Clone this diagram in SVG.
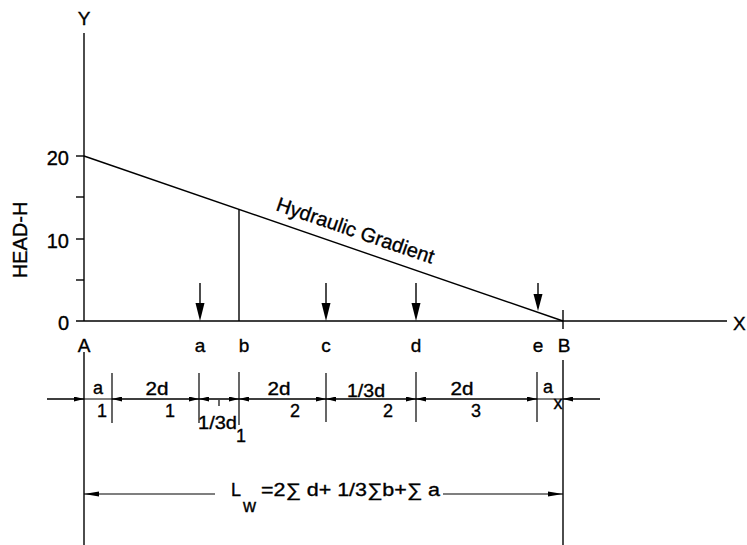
<svg xmlns="http://www.w3.org/2000/svg" width="747" height="545" viewBox="0 0 747 545">
  <style>
    .ln { stroke: #000; stroke-width: 1.4; fill: none; }
    .thin { stroke: #000; stroke-width: 1.2; fill: none; }
    .t { font-family: "Liberation Sans", Arial, sans-serif; fill: #000; stroke: #000; stroke-width: 0.35; }
    .big { font-size: 20px; }
    .lab { font-size: 19px; }
    .dim { font-size: 18px; }
    .mid { text-anchor: middle; }
    .end { text-anchor: end; }
    .head { fill: #000; stroke: none; }
  </style>
  <defs>
    <marker id="sm" markerUnits="userSpaceOnUse" markerWidth="10" markerHeight="5" refX="10" refY="2.5" orient="auto-start-reverse">
      <path d="M0,0 L10,2.5 L0,5 z" fill="#000"/>
    </marker>
    <marker id="lg" markerUnits="userSpaceOnUse" markerWidth="15" markerHeight="6" refX="15" refY="3" orient="auto-start-reverse">
      <path d="M0,0.5 L15,3 L0,5.5 z" fill="#000"/>
    </marker>
  </defs>
  <rect width="747" height="545" fill="#fff"/>

  <g id="axes">
    <line class="ln" x1="84" y1="33" x2="84" y2="321"/>
    <line class="ln" x1="76" y1="321" x2="727" y2="321"/>
    <line class="ln" x1="76" y1="156" x2="84" y2="156"/>
    <line class="ln" x1="76" y1="197" x2="84" y2="197"/>
    <line class="ln" x1="76" y1="239" x2="84" y2="239"/>
    <line class="ln" x1="76" y1="280" x2="84" y2="280"/>
    <text class="t lab mid" x="84" y="25">Y</text>
    <text class="t lab" x="733" y="330">X</text>
    <text class="t big end" x="69" y="165">20</text>
    <text class="t big end" x="69" y="248">10</text>
    <text class="t big end" x="69" y="330">0</text>
    <text class="t big mid" transform="translate(26.5,240) rotate(-90)">HEAD-H</text>
  </g>

  <g id="gradient">
    <line class="ln" x1="84" y1="156" x2="563" y2="321"/>
    <line class="ln" x1="239" y1="209" x2="239" y2="321"/>
    <line class="ln" x1="563" y1="310" x2="563" y2="329"/>
    <text class="t big" transform="translate(275,210) rotate(19)">Hydraulic Gradient</text>
  </g>

  <g id="load-arrows">
    <line class="ln" x1="200" y1="283" x2="200" y2="305"/>
    <path class="head" d="M195.5,303 L204.5,303 L200,321 z"/>
    <line class="ln" x1="326" y1="283" x2="326" y2="305"/>
    <path class="head" d="M321.5,303 L330.5,303 L326,321 z"/>
    <line class="ln" x1="416" y1="283" x2="416" y2="305"/>
    <path class="head" d="M411.5,303 L420.5,303 L416,321 z"/>
    <line class="ln" x1="538" y1="283" x2="538" y2="296"/>
    <path class="head" d="M533.5,294 L542.5,294 L538,311 z"/>
  </g>

  <g id="point-labels">
    <text class="t lab mid" x="84" y="352">A</text>
    <text class="t lab mid" x="200" y="352">a</text>
    <text class="t lab mid" x="244" y="352">b</text>
    <text class="t lab mid" x="326" y="352">c</text>
    <text class="t lab mid" x="416" y="352">d</text>
    <text class="t lab mid" x="538" y="352">e</text>
    <text class="t lab mid" x="564" y="352">B</text>
  </g>

  <g id="dimensions">
    <line class="ln" x1="84" y1="352" x2="84" y2="545"/>
    <line class="ln" x1="563" y1="360" x2="563" y2="545"/>
    <line class="thin" x1="112" y1="373" x2="112" y2="423"/>
    <line class="thin" x1="199" y1="373" x2="199" y2="423"/>
    <line class="thin" x1="239" y1="372" x2="239" y2="425"/>
    <line class="thin" x1="326" y1="373" x2="326" y2="422"/>
    <line class="thin" x1="416" y1="372" x2="416" y2="422"/>
    <line class="thin" x1="537" y1="372" x2="537" y2="422"/>
    <line class="thin" x1="219" y1="400" x2="219" y2="406"/>

    <line class="thin" x1="47" y1="399" x2="600" y2="399"/>
    <line class="thin" x1="47" y1="399" x2="84" y2="399" marker-end="url(#sm)"/>
    <line class="thin" x1="112" y1="399" x2="199" y2="399" marker-start="url(#sm)" marker-end="url(#sm)"/>
    <line class="thin" x1="199" y1="399" x2="239" y2="399" marker-start="url(#sm)" marker-end="url(#sm)"/>
    <line class="thin" x1="239" y1="399" x2="326" y2="399" marker-start="url(#sm)" marker-end="url(#sm)"/>
    <line class="thin" x1="326" y1="399" x2="416" y2="399" marker-start="url(#sm)" marker-end="url(#sm)"/>
    <line class="thin" x1="416" y1="399" x2="537" y2="399" marker-start="url(#sm)" marker-end="url(#sm)"/>
    <line class="thin" x1="600" y1="399" x2="563" y2="399" marker-end="url(#sm)"/>

    <text class="t dim mid" x="98" y="394">a</text>
    <text class="t dim mid" x="102" y="417">1</text>
    <text class="t dim mid" x="157" y="395" textLength="23" lengthAdjust="spacingAndGlyphs">2d</text>
    <text class="t dim mid" x="170" y="417">1</text>
    <text class="t dim" x="198" y="429" textLength="39" lengthAdjust="spacingAndGlyphs">1/3d</text>
    <text class="t dim mid" x="241" y="442">1</text>
    <text class="t dim mid" x="279" y="395" textLength="23" lengthAdjust="spacingAndGlyphs">2d</text>
    <text class="t dim mid" x="295" y="417">2</text>
    <text class="t dim" x="347" y="397" textLength="38" lengthAdjust="spacingAndGlyphs">1/3d</text>
    <text class="t dim mid" x="388" y="417">2</text>
    <text class="t dim mid" x="462" y="395" textLength="23" lengthAdjust="spacingAndGlyphs">2d</text>
    <text class="t dim mid" x="476" y="417">3</text>
    <text class="t dim mid" x="548" y="393">a</text>
    <text class="t dim mid" x="558" y="409">x</text>

    <line class="thin" x1="215" y1="494" x2="84" y2="494" marker-end="url(#lg)"/>
    <line class="thin" x1="443" y1="494" x2="563" y2="494" marker-end="url(#lg)"/>
    <text class="t dim" x="231" y="496">L</text>
    <text class="t dim" x="243" y="512">w</text>
    <text class="t dim" x="261" y="496" textLength="179" lengthAdjust="spacingAndGlyphs">=2∑ d+ 1/3∑b+∑ a</text>
  </g>
</svg>
